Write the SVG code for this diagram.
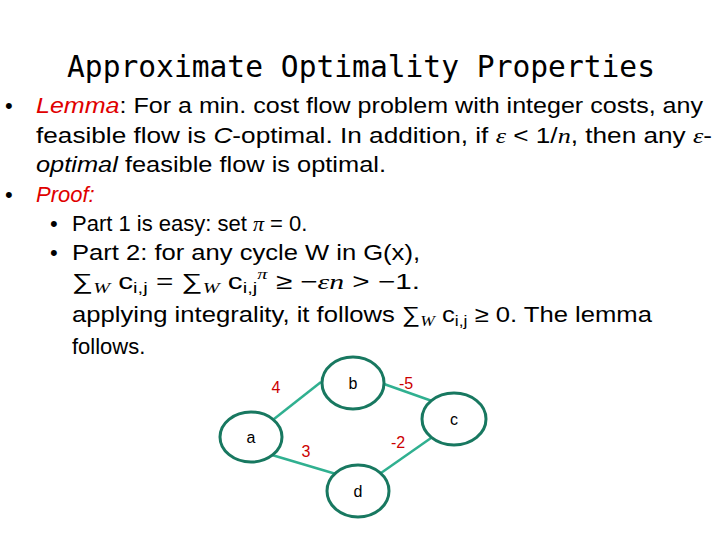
<svg xmlns="http://www.w3.org/2000/svg" width="720" height="540" viewBox="0 0 720 540">
<style>
.t{font-family:"Liberation Sans",Arial,sans-serif;font-size:22px;fill:#000}
.m{font-family:"Liberation Serif",serif;font-style:italic}
.r{fill:#e00000}
.n{fill:#fff;stroke:#187860;stroke-width:3}
.e{stroke:#30b090;stroke-width:2.5;fill:none}
.nl{font-family:"Liberation Sans",Arial,sans-serif;font-size:16px;fill:#000;text-anchor:middle}
.el{font-family:"Liberation Sans",Arial,sans-serif;font-size:16px;fill:#cc0000;text-anchor:middle}
</style>
<rect width="720" height="540" fill="#fff"/>
<text x="361" y="77" text-anchor="middle" style="font-family:'DejaVu Sans Mono',monospace;font-size:31px" textLength="588" lengthAdjust="spacingAndGlyphs">Approximate Optimality Properties</text>
<g class="t">
<text x="5" y="113">•</text>
<text x="36" y="113" textLength="667" lengthAdjust="spacingAndGlyphs"><tspan class="r" font-style="italic">Lemma</tspan>: For a min. cost flow problem with integer costs, any</text>
<text x="36" y="143" textLength="676" lengthAdjust="spacingAndGlyphs">feasible flow is <tspan font-style="italic">C</tspan>-optimal. In addition, if <tspan class="m">ε</tspan> &lt; 1/<tspan class="m">n</tspan>, then any <tspan class="m">ε</tspan>-</text>
<text x="36" y="172" textLength="350" lengthAdjust="spacingAndGlyphs"><tspan font-style="italic">optimal</tspan> feasible flow is optimal.</text>
<text x="5" y="202">•</text>
<text x="36" y="202" font-style="italic" class="r">Proof:</text>
<text x="50" y="231">•</text>
<text x="72" y="231">Part 1 is easy: set <tspan class="m">π</tspan> = 0.</text>
<text x="50" y="260">•</text>
<text x="72" y="260" textLength="348" lengthAdjust="spacingAndGlyphs">Part 2: for any cycle W in G(x),</text>
<text x="72" y="289" textLength="348" lengthAdjust="spacingAndGlyphs">∑<tspan class="m" font-size="15" dy="4">W</tspan><tspan dy="-4"> c</tspan><tspan font-size="15" dy="4">i,j</tspan><tspan dy="-4"> = ∑</tspan><tspan class="m" font-size="15" dy="4">W</tspan><tspan dy="-4"> c</tspan><tspan font-size="15" dy="4">i,j</tspan><tspan class="m" font-size="15" dy="-14">π</tspan><tspan dy="10"> ≥ −</tspan><tspan class="m">εn</tspan> &gt; −1.</text>
<text x="72" y="322" textLength="580" lengthAdjust="spacingAndGlyphs">applying integrality, it follows ∑<tspan class="m" font-size="15" dy="4">W</tspan><tspan dy="-4"> c</tspan><tspan font-size="15" dy="4">i,j</tspan><tspan dy="-4"> ≥ 0. The lemma</tspan></text>
<text x="72" y="354">follows.</text>
</g>
<g id="connectors">
<line class="e" x1="274" y1="419" x2="321" y2="382"/>
<line class="e" x1="384" y1="384" x2="432" y2="401"/>
<line class="e" x1="431" y1="438" x2="381" y2="473"/>
<line class="e" x1="272" y1="455" x2="336" y2="474"/>
<text class="el" x="276" y="393">4</text>
<text class="el" x="406" y="389">-5</text>
<text class="el" x="306" y="457">3</text>
<text class="el" x="398" y="448">-2</text>
</g>
<g id="node-a"><ellipse class="n" cx="251" cy="437" rx="31" ry="25"/><text class="nl" x="251" y="443">a</text></g>
<g id="node-b"><ellipse class="n" cx="353" cy="383" rx="31" ry="26"/><text class="nl" x="353" y="389">b</text></g>
<g id="node-c"><ellipse class="n" cx="454" cy="419" rx="32" ry="26"/><text class="nl" x="454" y="425">c</text></g>
<g id="node-d"><ellipse class="n" cx="358" cy="491" rx="31" ry="26"/><text class="nl" x="358" y="497">d</text></g>
</svg>
